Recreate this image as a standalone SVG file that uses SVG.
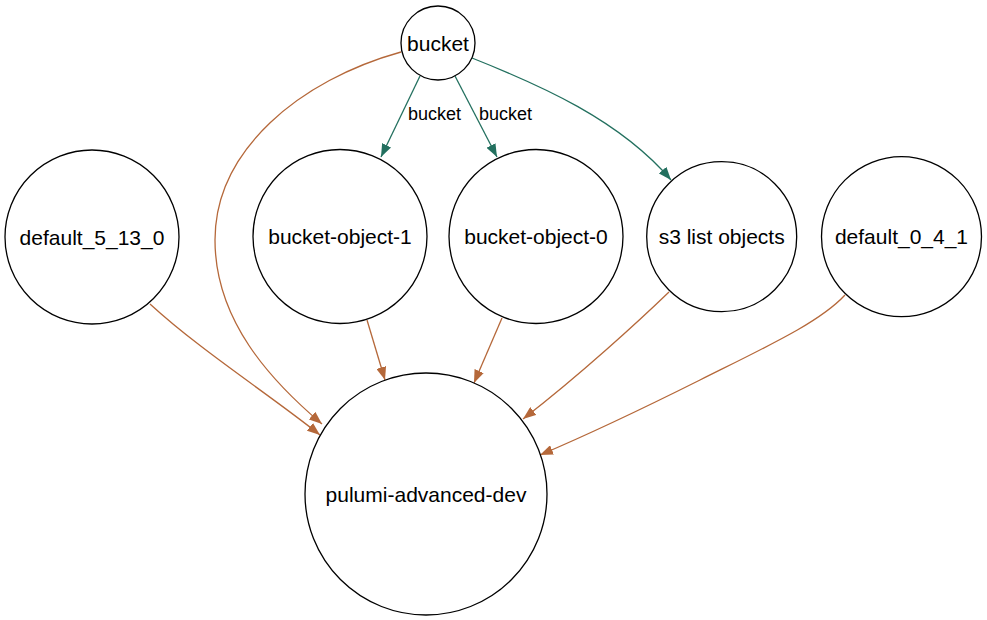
<svg xmlns="http://www.w3.org/2000/svg" width="987" height="620" viewBox="0 0 987 620">
<style>
.node circle{fill:#fff;stroke:#000;stroke-width:1.3}
.node text{font-family:"Liberation Sans",Arial,sans-serif;font-size:21px;text-anchor:middle;fill:#000}
.lbl{font-family:"Liberation Sans",Arial,sans-serif;font-size:18px;fill:#000}
.e{fill:none;stroke-width:1.3}
.teal{stroke:#23705f}
.brown{stroke:#b5683a}
</style>
<defs>
<marker id="at" markerUnits="userSpaceOnUse" markerWidth="14" markerHeight="10" refX="13" refY="5" orient="auto"><path d="M0,0 L13,5 L0,10 z" fill="#23705f"/></marker>
<marker id="ab" markerUnits="userSpaceOnUse" markerWidth="14" markerHeight="10" refX="13" refY="5" orient="auto"><path d="M0,0 L13,5 L0,10 z" fill="#b5683a"/></marker>
</defs>
<rect width="987" height="620" fill="#fff"/>
<g id="edges">
<path class="e teal" d="M420,76 L381,157" marker-end="url(#at)"/>
<path class="e teal" d="M455,76 L497,157" marker-end="url(#at)"/>
<path class="e teal" d="M472,58 C540,85 620,120 671,180" marker-end="url(#at)"/>
<path class="e brown" d="M401,52 C300,80 215,150 215,240 C215,320 270,380 322,424" marker-end="url(#ab)"/>
<path class="e brown" d="M150,304 C200,350 270,395 320,435" marker-end="url(#ab)"/>
<path class="e brown" d="M367,320 L385,380" marker-end="url(#ab)"/>
<path class="e brown" d="M502,318 L474,383" marker-end="url(#ab)"/>
<path class="e brown" d="M669,292 C640,320 580,375 523,419" marker-end="url(#ab)"/>
<path class="e brown" d="M845,295 C820,322 770,345 700,380 C640,410 580,438 540,455" marker-end="url(#ab)"/>
<text class="lbl" x="408" y="120">bucket</text>
<text class="lbl" x="479" y="120">bucket</text>
</g>
<g id="bucket" class="node"><circle cx="438" cy="43" r="37"/><text x="438" y="50.5">bucket</text></g>
<g id="default_5_13_0" class="node"><circle cx="92" cy="237" r="87"/><text x="92" y="244.5">default_5_13_0</text></g>
<g id="bucket-object-1" class="node"><circle cx="340" cy="236.5" r="87"/><text x="340" y="244">bucket-object-1</text></g>
<g id="bucket-object-0" class="node"><circle cx="536" cy="236.5" r="87"/><text x="536" y="244">bucket-object-0</text></g>
<g id="s3-list-objects" class="node"><circle cx="721.7" cy="236.7" r="75"/><text x="721.7" y="244">s3 list objects</text></g>
<g id="default_0_4_1" class="node"><circle cx="901.5" cy="236.7" r="80"/><text x="901.5" y="244">default_0_4_1</text></g>
<g id="pulumi-advanced-dev" class="node"><circle cx="426" cy="494" r="121"/><text x="426" y="501.5">pulumi-advanced-dev</text></g>
</svg>
